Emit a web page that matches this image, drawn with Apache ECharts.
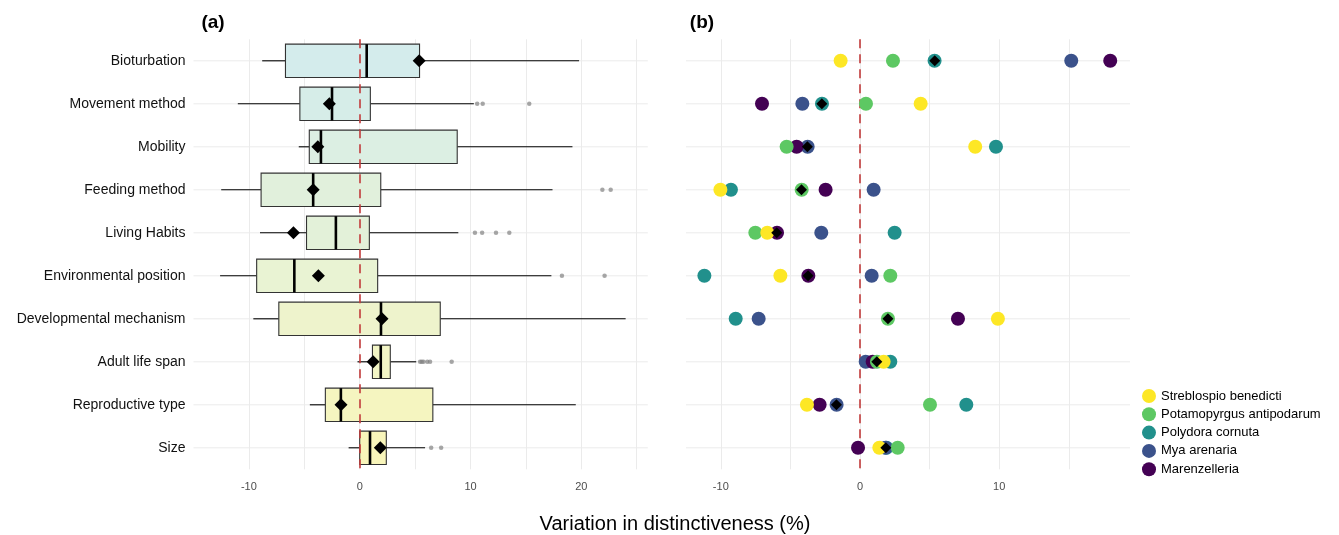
<!DOCTYPE html>
<html>
<head>
<meta charset="utf-8">
<script src="https://cdn.jsdelivr.net/npm/echarts@6/dist/echarts.min.js"></script>
<style>
  html, body { margin: 0; padding: 0; background: #fff; }
  #chart { width: 1339px; height: 535px; }
</style>
</head>
<body>
<div id="chart"></div>
<script>
// ---------- data ----------
const categories = ['Bioturbation', 'Movement method', 'Mobility', 'Feeding method', 'Living Habits',
  'Environmental position', 'Developmental mechanism', 'Adult life span', 'Reproductive type', 'Size'];

// panel (a): box statistics
const whiskerLow  = [-8.8, -11.0, -5.5, -12.5, -9.0, -12.6, -9.6, -0.2, -4.5, -1.0];
const boxLow      = [-6.7, -5.4, -4.55, -8.9, -4.8, -9.3, -7.3, 1.15, -3.1, 0.0];
const boxMedian   = [0.63, -2.5, -3.5, -4.2, -2.15, -5.9, 1.92, 1.9, -1.7, 0.93];
const boxHigh     = [5.4, 0.96, 8.8, 1.9, 0.87, 1.62, 7.27, 2.76, 6.6, 2.4];
const whiskerHigh = [19.8, 10.3, 19.2, 17.4, 8.9, 17.3, 24.0, 5.1, 19.5, 5.9];
// diamond marker (median across species)
const speciesMedian = [5.37, -2.74, -3.78, -4.2, -5.98, -3.73, 2.01, 1.21, -1.69, 1.86];
// outliers: [category, value]
const outliers = [
  ['Movement method', 10.6], ['Movement method', 11.1], ['Movement method', 15.3],
  ['Feeding method', 21.9], ['Feeding method', 22.65],
  ['Living Habits', 10.4], ['Living Habits', 11.05], ['Living Habits', 12.3], ['Living Habits', 13.5],
  ['Environmental position', 18.25], ['Environmental position', 22.1],
  ['Adult life span', 5.45], ['Adult life span', 5.6], ['Adult life span', 5.75], ['Adult life span', 6.1],
  ['Adult life span', 6.35], ['Adult life span', 8.3],
  ['Size', 6.45], ['Size', 7.35]
];

// panel (b): species values
const speciesNames = ['Streblospio benedicti', 'Potamopyrgus antipodarum', 'Polydora cornuta', 'Mya arenaria', 'Marenzelleria'];
const streblospio  = [-1.39, 4.36, 8.28, -10.03, -6.66, -5.72, 9.91, 1.70, -3.81, 1.39];
const potamopyrgus = [2.37, 0.43, -5.27, -4.19, -7.52, 2.18, 2.01, 1.22, 5.03, 2.71];
const polydora     = [5.36, -2.73, 9.77, -9.27, 2.49, -11.18, -8.93, 2.18, 7.64, 1.90];
const mya          = [15.18, -4.14, -3.76, 0.98, -2.78, 0.84, -7.28, 0.41, -1.68, 1.84];
const marenzelleria= [17.98, -7.04, -4.55, -2.47, -5.96, -3.71, 7.04, 0.91, -2.90, -0.14];

// ---------- styles ----------
const speciesColors = ['#FDE725', '#5DC863', '#21908C', '#3B528B', '#440154'];
const boxFills = ['#d4ecec', '#d6ede8', '#dcefe3', '#e1f0dc', '#e3f1d9', '#e9f3d3', '#eef3cc', '#f2f5c6', '#f5f5c0', '#f8f5ba'];
const FONT = 'Liberation Sans, Arial, Helvetica, sans-serif';
const GRID_COLOR = '#ebebeb';
const RED = '#c13b3b';

const speciesData = [streblospio, potamopyrgus, polydora, mya, marenzelleria];

const chart = echarts.init(document.getElementById('chart'), null, { renderer: 'canvas' });

function hGridSeries(idx, withRef, z) {
  return {
    type: 'custom',
    xAxisIndex: idx, yAxisIndex: idx,
    silent: true,
    z: 1,
    data: categories.map((c, i) => [0, i]),
    encode: { x: 0, y: 1 },
    renderItem: function (params, api) {
      const p = api.coord([0, api.value(1)]);
      const cs = params.coordSys;
      return {
        type: 'line',
        shape: { x1: cs.x, y1: p[1], x2: cs.x + cs.width, y2: p[1] },
        style: { stroke: GRID_COLOR, lineWidth: 1 }
      };
    },
    markLine: withRef ? {
      silent: true, symbol: 'none', z: z,
      label: { show: false },
      lineStyle: { color: RED, width: 1.6, type: [9, 6] },
      data: [{ xAxis: 0 }]
    } : undefined
  };
}

const xLabel = {
  color: '#4d4d4d', fontSize: 11, fontFamily: FONT, margin: 12,
  formatter: function (v) { return (Math.abs(v % 10) < 1e-9) ? String(v) : ''; }
};

const option = {
  animation: false,
  backgroundColor: '#fff',
  title: [
    { text: '(a)', left: 208, top: 8, textAlign: 'center',
      textStyle: { fontSize: 19, fontWeight: 'bold', fontFamily: FONT, color: '#000' } },
    { text: '(b)', left: 697, top: 8, textAlign: 'center',
      textStyle: { fontSize: 19, fontWeight: 'bold', fontFamily: FONT, color: '#000' } },
    { text: 'Variation in distinctiveness (%)', left: 670, top: 509, textAlign: 'center',
      textStyle: { fontSize: 20, fontWeight: 'normal', fontFamily: FONT, color: '#000' } }
  ],
  legend: {
    data: speciesNames,
    orient: 'vertical',
    left: 1137, top: 384,
    itemWidth: 14, itemHeight: 14, itemGap: 4.3,
    icon: 'circle',
    textStyle: { fontSize: 13, fontFamily: FONT, color: '#000' }
  },
  grid: [
    { left: 193.5, top: 39.3, width: 454.3, height: 430 },
    { left: 686, top: 39.3, width: 444, height: 430 }
  ],
  xAxis: [
    { gridIndex: 0, type: 'value', min: -15, max: 26, interval: 5,
      axisLine: { show: false }, axisTick: { show: false }, axisLabel: xLabel,
      splitLine: { show: true, showMinLine: false, showMaxLine: false, lineStyle: { color: GRID_COLOR, width: 1 } } },
    { gridIndex: 1, type: 'value', min: -12.5, max: 19.4, interval: 2.5,
      axisLine: { show: false }, axisTick: { show: false }, axisLabel: xLabel,
      splitLine: { show: true, showMinLine: false, showMaxLine: false,
        lineStyle: { color: [GRID_COLOR, 'rgba(0,0,0,0)'], width: 1 } } }
  ],
  yAxis: [
    { gridIndex: 0, type: 'category', data: categories, inverse: true,
      axisLine: { show: false }, axisTick: { show: false }, splitLine: { show: false },
      axisLabel: { color: '#111', fontSize: 14, fontFamily: FONT, margin: 8 } },
    { gridIndex: 1, type: 'category', data: categories, inverse: true,
      axisLine: { show: false }, axisTick: { show: false }, splitLine: { show: false },
      axisLabel: { show: false } }
  ],
  series: [
    hGridSeries(0, false),
    hGridSeries(1, true, 3),
    {
      type: 'custom',
      name: 'box',
      xAxisIndex: 0, yAxisIndex: 0,
      z: 2,
      data: categories.map((c, i) => [i, whiskerLow[i], boxLow[i], boxMedian[i], boxHigh[i], whiskerHigh[i]]),
      encode: { y: 0, x: [1, 2, 3, 4, 5] },
      renderItem: function (params, api) {
        const i = api.value(0);
        const lo = api.coord([api.value(1), i]);
        const b1 = api.coord([api.value(2), i]);
        const md = api.coord([api.value(3), i]);
        const b3 = api.coord([api.value(4), i]);
        const hi = api.coord([api.value(5), i]);
        const band = api.size([0, 1])[1];
        const h = band * 0.775;
        const y = lo[1];
        return {
          type: 'group',
          children: [
            { type: 'line', shape: { x1: lo[0], y1: y, x2: b1[0], y2: y }, style: { stroke: '#000', lineWidth: 1.1 } },
            { type: 'line', shape: { x1: b3[0], y1: y, x2: hi[0], y2: y }, style: { stroke: '#000', lineWidth: 1.1 } },
            { type: 'rect', shape: { x: b1[0], y: y - h / 2, width: b3[0] - b1[0], height: h },
              style: { fill: boxFills[i], stroke: '#333', lineWidth: 1.1 } },
            { type: 'line', shape: { x1: md[0], y1: y - h / 2, x2: md[0], y2: y + h / 2 },
              style: { stroke: '#000', lineWidth: 2.6 } }
          ]
        };
      },
      markLine: {
        silent: true, symbol: 'none', z: 5,
        label: { show: false },
        lineStyle: { color: RED, width: 1.6, type: [9, 6] },
        data: [{ xAxis: 0 }]
      }
    },
    {
      type: 'scatter', name: 'outliers',
      xAxisIndex: 0, yAxisIndex: 0, z: 6,
      symbol: 'circle', symbolSize: 4.5,
      itemStyle: { color: 'rgba(130,130,130,0.7)', opacity: 1 },
      data: outliers.map(o => [o[1], o[0]])
    },
    {
      type: 'scatter', name: 'median (a)',
      xAxisIndex: 0, yAxisIndex: 0, z: 10,
      symbol: 'diamond', symbolSize: [13, 13],
      itemStyle: { color: '#000', opacity: 1 },
      data: speciesMedian.map((v, i) => [v, categories[i]])
    }
  ]
};

// species series (drawing order)
const drawOrder = [2, 3, 4, 1, 0];
drawOrder.forEach(function (k) {
  option.series.push({
    type: 'scatter', name: speciesNames[k],
    xAxisIndex: 1, yAxisIndex: 1, z: 10,
    symbol: 'circle', symbolSize: 14,
    itemStyle: { color: speciesColors[k], opacity: 1 },
    data: speciesData[k].map((v, i) => [v, categories[i]])
  });
});
option.series.push({
  type: 'scatter', name: 'median (b)',
  xAxisIndex: 1, yAxisIndex: 1, z: 11,
  symbol: 'diamond', symbolSize: [11, 11],
  itemStyle: { color: '#000', opacity: 1 },
  data: speciesMedian.map((v, i) => [v, categories[i]])
});

chart.setOption(option);
</script>
</body>
</html>
